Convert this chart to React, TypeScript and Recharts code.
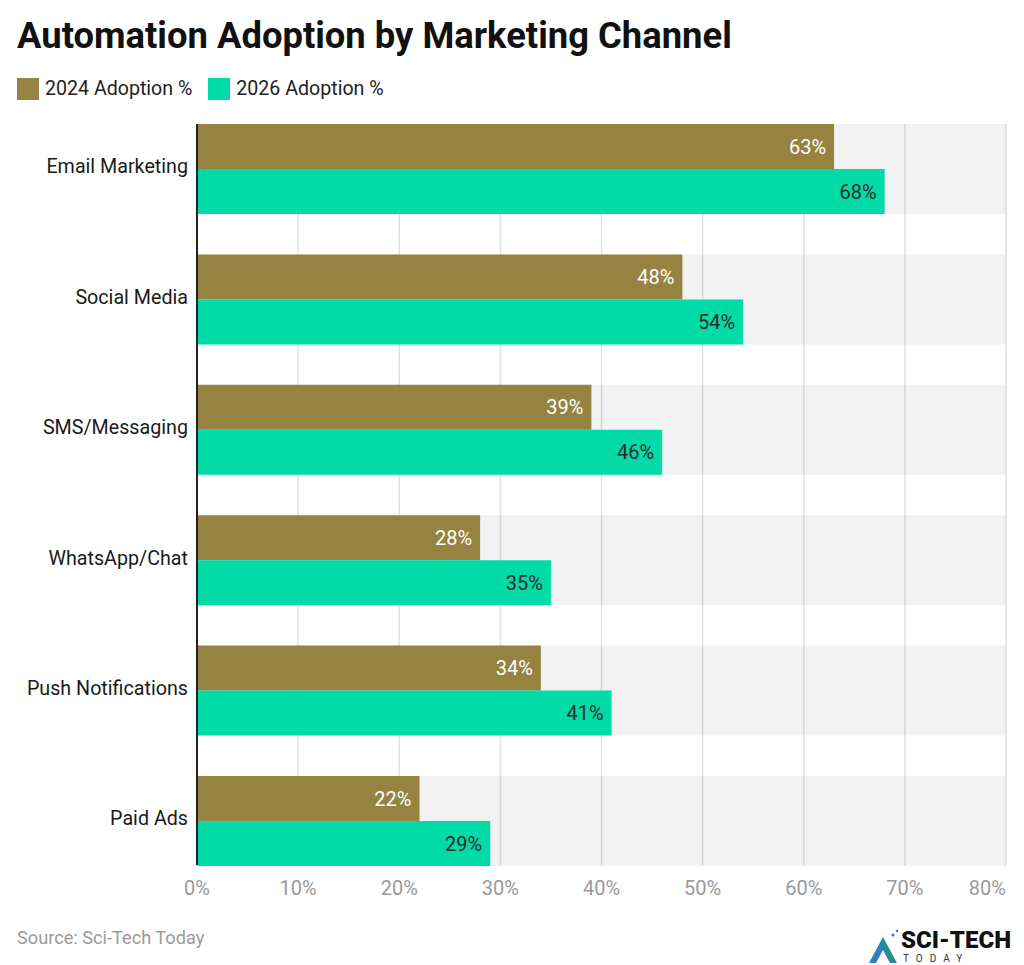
import React from "react";
import {
  BarChart,
  Bar,
  XAxis,
  YAxis,
  CartesianGrid,
  LabelList,
} from "recharts";

const channels = [
  "Email Marketing",
  "Social Media",
  "SMS/Messaging",
  "WhatsApp/Chat",
  "Push Notifications",
  "Paid Ads",
];
const adoption2024 = [63, 48, 39, 28, 34, 22];
const adoption2026 = [68, 54, 46, 35, 41, 29];
const xTicks = [0, 10, 20, 30, 40, 50, 60, 70, 80];

const seriesInfo = [
  { key: "y2024", name: "2024 Adoption %", color: "#968241", labelColor: "#ffffff" },
  { key: "y2026", name: "2026 Adoption %", color: "#00dba7", labelColor: "#2b2b2b" },
];

const data = channels.map((channel, i) => ({
  channel,
  y2024: adoption2024[i],
  y2026: adoption2026[i],
}));

const font = "Roboto, 'Noto Sans', sans-serif";

// last tick is pulled inside the plot, like the original
const XTick = (props: any) => {
  const { x, y, payload } = props;
  const last = payload.value === xTicks[xTicks.length - 1];
  return (
    <text
      x={x}
      y={y}
      dy="0.71em"
      textAnchor={last ? "end" : "middle"}
      fill="#9a9a9a"
      fontSize={20}
      fontFamily={font}
    >
      {`${payload.value}%`}
    </text>
  );
};

const App: React.FC = () => {
  return (
    <div
      style={{
        position: "absolute",
        left: 0,
        top: 0,
        width: 1024,
        height: 965,
        background: "#ffffff",
        fontFamily: font,
      }}
    >
      <div
        style={{
          position: "absolute",
          left: 17,
          top: 14,
          fontSize: 36.4,
          fontWeight: 700,
          color: "#111111",
          whiteSpace: "nowrap",
        }}
      >
        Automation Adoption by Marketing Channel
      </div>

      {/* legend */}
      <div
        style={{
          position: "absolute",
          left: 17,
          top: 77,
          display: "flex",
          alignItems: "center",
          fontSize: 19.6,
          color: "#222222",
          whiteSpace: "nowrap",
        }}
      >
        {seriesInfo.map((s) => (
          <div
            key={s.key}
            style={{ display: "flex", alignItems: "center", marginRight: 16 }}
          >
            <span
              style={{
                display: "inline-block",
                width: 22,
                height: 22,
                background: s.color,
                marginRight: 6,
              }}
            />
            <span>{s.name}</span>
          </div>
        ))}
      </div>

      <div style={{ position: "absolute", left: 0, top: 0 }}>
        <BarChart
          width={1024}
          height={965}
          data={data}
          layout="vertical"
          margin={{ top: 124, right: 18, bottom: 70, left: 0 }}
          barGap={0}
          barCategoryGap={20.7}
        >
          <CartesianGrid
            horizontal={false}
            vertical={true}
            stroke="#dde3e2"
            strokeWidth={1.5}
          />
          <XAxis
            type="number"
            domain={[0, 80]}
            ticks={xTicks}
            axisLine={false}
            tickLine={false}
            tickMargin={10}
            tick={<XTick />}
            interval={0}
            height={30}
          />
          <YAxis
            type="category"
            dataKey="channel"
            width={197}
            padding={{ top: -20.7, bottom: -20.7 }}
            axisLine={{ stroke: "#222222", strokeWidth: 2 }}
            tickLine={false}
            tickMargin={3}
            tick={{ fill: "#1a1a1a", fontSize: 19.7, fontFamily: font, dy: -2 }}
            interval={0}
          />
          {seriesInfo.map((s) => (
            <Bar
              key={s.key}
              dataKey={s.key}
              name={s.name}
              fill={s.color}
              isAnimationActive={false}
              background={{ fill: "rgba(0,0,0,0.05)" }}
            >
              <LabelList
                dataKey={s.key}
                position="insideRight"
                offset={8}
                formatter={(v: number) => `${v}%`}
                fill={s.labelColor}
                fontSize={20}
                fontFamily={font}
              />
            </Bar>
          ))}
        </BarChart>
      </div>

      <div
        style={{
          position: "absolute",
          left: 17,
          top: 927,
          fontSize: 18.2,
          color: "#9a9a9a",
          whiteSpace: "nowrap",
        }}
      >
        Source: Sci-Tech Today
      </div>

      {/* logo */}
      <div style={{ position: "absolute", left: 866, top: 928, width: 150, height: 37 }}>
        <svg width={36} height={37} style={{ position: "absolute", left: 0, top: 0 }}>
          <polygon points="3,35 17,9 31,35 24,35 17,22 10,35" fill="#2f7fc1" />
          <line x1={16} y1={12} x2={27} y2={33} stroke="#1e9e6a" strokeWidth={3} />
          <circle cx={27} cy={7} r={1.6} fill="#2f7fc1" />
          <circle cx={31} cy={3} r={1.2} fill="#2f7fc1" />
        </svg>
        <div
          style={{
            position: "absolute",
            left: 35,
            top: 0,
            fontSize: 24,
            fontWeight: 900,
            color: "#111111",
            lineHeight: "24px",
            whiteSpace: "nowrap",
          }}
        >
          SCI-TECH
        </div>
        <div
          style={{
            position: "absolute",
            left: 37,
            top: 25,
            fontSize: 10,
            color: "#333333",
            letterSpacing: 7,
            lineHeight: "11px",
            whiteSpace: "nowrap",
          }}
        >
          TODAY
        </div>
      </div>
    </div>
  );
};

export default App;
